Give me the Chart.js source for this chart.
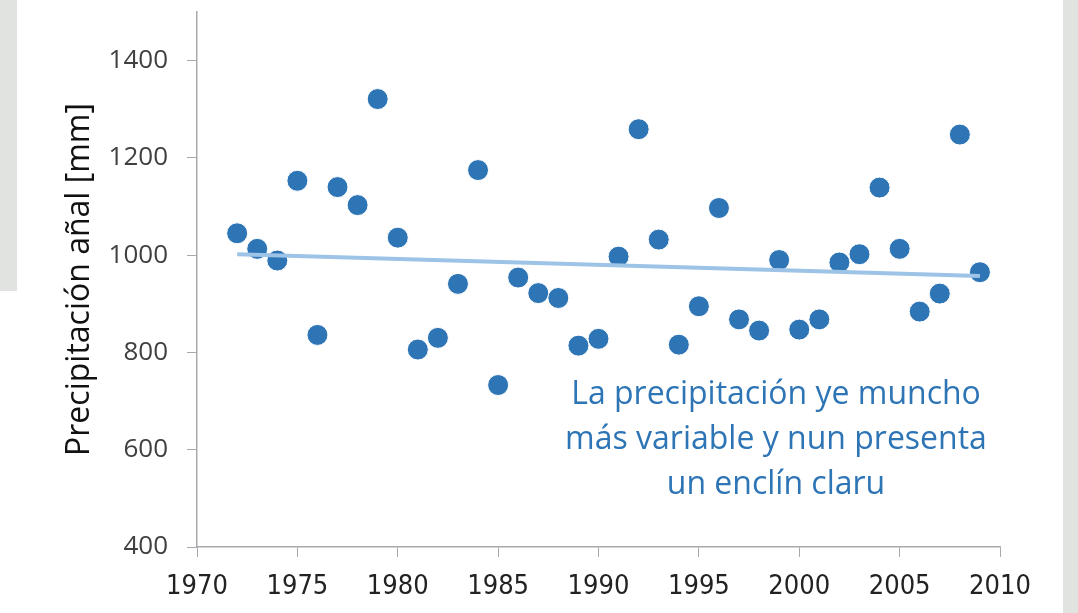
<!DOCTYPE html>
<html>
<head>
<meta charset="utf-8">
<script src="https://cdn.jsdelivr.net/npm/chart.js@4.4.0/dist/chart.umd.min.js"></script>
<style>
  html, body { margin: 0; padding: 0; background: #ffffff; }
  #wrap { position: relative; width: 1078px; height: 613px; }
</style>
</head>
<body>
<div id="wrap"><canvas id="rainChart" width="1078" height="613"></canvas></div>
<script>
// Annual precipitation per year
const years = [1972, 1973, 1974, 1975, 1976, 1977, 1978, 1979, 1980, 1981,
               1982, 1983, 1984, 1985, 1986, 1987, 1988, 1989, 1990, 1991,
               1992, 1993, 1994, 1995, 1996, 1997, 1998, 1999, 2000, 2001,
               2002, 2003, 2004, 2005, 2006, 2007, 2008, 2009];
const rainfall = [1045, 1013, 989, 1153, 836, 1140, 1103, 1321, 1036, 806,
                  830, 941, 1175, 733, 954, 922, 912, 814, 828, 997,
                  1259, 1032, 816, 895, 1097, 868, 845, 990, 847, 868,
                  985, 1002, 1139, 1013, 884, 921, 1248, 965];

// Trend line end points
const trendYears = [1972, 2009];
const trendValues = [1002, 957];

const yTickValues = [400, 600, 800, 1000, 1200, 1400];
const noteLines = ['La precipitación ye muncho', 'más variable y nun presenta', 'un enclín claru'];

const axisGrey = '#a9a9ad';

// Grey bits of the slide behind the chart
const backdrop = {
    id: 'backdrop',
    beforeDraw(chart) {
        const ctx = chart.ctx;
        ctx.save();
        ctx.fillStyle = '#ffffff';
        ctx.fillRect(0, 0, chart.width, chart.height);
        ctx.fillStyle = '#e1e3e1';
        ctx.fillRect(0, 0, 17, 291);
        ctx.fillRect(1063, 0, 15, chart.height);
        ctx.restore();
    }
};

// The blue comment under the points
const note = {
    id: 'note',
    afterDraw(chart) {
        const ctx = chart.ctx;
        ctx.save();
        ctx.fillStyle = '#2e75b6';
        ctx.font = '32px "Open Sans"';
        ctx.textAlign = 'center';
        ctx.textBaseline = 'alphabetic';
        noteLines.forEach((txt, i) => {
            ctx.fillText(txt, 776, 404 + i * 45);
        });
        ctx.restore();
    }
};

const ctx = document.getElementById('rainChart').getContext('2d');

const myChart = new Chart(ctx, {
    type: 'scatter',
    data: {
        datasets: [{
            type: 'line',
            data: trendYears.map((yr, i) => ({ x: yr, y: trendValues[i] })),
            borderColor: '#9dc3e6',
            borderWidth: 4,
            pointRadius: 0,
            fill: false
        }, {
            data: years.map((yr, i) => ({ x: yr, y: rainfall[i] })),
            backgroundColor: '#2e75b6',
            borderColor: '#ffffff',
            borderWidth: 1,
            pointRadius: 10.5,
            pointHoverRadius: 10.5
        }]
    },
    options: {
        responsive: false,
        animation: false,
        layout: { padding: { top: 12, right: 78, bottom: 0, left: 0 } },
        plugins: {
            legend: { display: false },
            tooltip: { enabled: false }
        },
        scales: {
            x: {
                type: 'linear',
                min: 1970,
                max: 2010,
                ticks: {
                    stepSize: 5,
                    padding: 14,
                    color: '#222222',
                    font: { family: '"DejaVu Sans Condensed", "DejaVu Sans"', size: 27 },
                    maxRotation: 0,
                    callback: v => String(v)
                },
                grid: { drawOnChartArea: false, drawTicks: true, tickLength: 10, color: axisGrey },
                border: { display: true, color: axisGrey, width: 1.5 },
                afterFit: scale => {
                    scale.height = 66;
                    scale.paddingLeft = 0;
                    scale.paddingRight = 0;
                }
            },
            y: {
                min: 400,
                max: 1500,
                ticks: {
                    stepSize: 200,
                    padding: 19,
                    color: '#404040',
                    font: { family: '"Open Sans"', size: 26 },
                    callback: v => String(v)
                },
                afterBuildTicks: scale => {
                    scale.ticks = yTickValues.map(v => ({ value: v }));
                },
                grid: { drawOnChartArea: false, drawTicks: true, tickLength: 10, color: axisGrey },
                border: { display: true, color: axisGrey, width: 1.5 },
                title: {
                    display: true,
                    text: 'Precipitación añal [mm]',
                    color: '#111111',
                    font: { family: '"Open Sans"', size: 32 },
                    padding: { top: 61, bottom: 0 }
                },
                afterFit: scale => {
                    scale.width = 197;
                    scale.paddingTop = 0;
                    scale.paddingBottom = 0;
                }
            }
        }
    },
    plugins: [backdrop, note]
});
</script>
</body>
</html>
